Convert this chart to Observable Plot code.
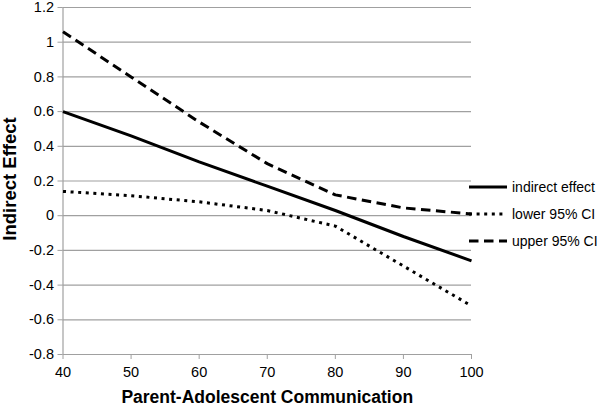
<!DOCTYPE html>
<html>
<head>
<meta charset="utf-8">
<script src="https://cdn.jsdelivr.net/npm/d3@7"></script>
<script src="https://cdn.jsdelivr.net/npm/@observablehq/plot@0.6"></script>
<style>
  html, body { margin: 0; padding: 0; background: #fff; }
  #wrap { position: relative; width: 600px; height: 407px; font-family: "Liberation Sans", Arial, Helvetica, sans-serif; }
  #legend { position: absolute; left: 469px; top: 173px; font-size: 14px; color: #000; }
  .row { display: flex; align-items: center; height: 27px; white-space: nowrap; }
  .row svg { margin-right: 5px; }
</style>
</head>
<body>
<div id="wrap"></div>
<script>
const communication = [40, 50, 60, 70, 80, 90, 100];
const indirectEffect = [0.60, 0.46, 0.31, 0.17, 0.03, -0.12, -0.26];
const lowerCI = [0.14, 0.115, 0.08, 0.03, -0.06, -0.29, -0.52];
const upperCI = [1.06, 0.80, 0.54, 0.30, 0.12, 0.045, 0.01];
const xTicks = [40, 50, 60, 70, 80, 90, 100];
const yTicks = [-0.8, -0.6, -0.4, -0.2, 0, 0.2, 0.4, 0.6, 0.8, 1, 1.2];
const seriesNames = ["indirect effect", "lower 95% CI", "upper 95% CI"];
const seriesValues = [indirectEffect, lowerCI, upperCI];
const seriesDash = [null, "3,4.6", "9.5,5.5"];

const rows = [];
seriesNames.forEach((name, i) => {
  communication.forEach((c, j) => rows.push({series: name, x: c, y: seriesValues[i][j]}));
});

const lineMarks = seriesNames.map((name, i) => Plot.line(rows.filter(d => d.series === name), {
  x: "x", y: "y", stroke: "#000", strokeWidth: 3,
  strokeDasharray: seriesDash[i] || undefined,
  strokeLinecap: "butt", strokeLinejoin: "round"
}));

const chart = Plot.plot({
  width: 600,
  height: 407,
  marginLeft: 62.5,
  marginRight: 129,
  marginTop: 7,
  marginBottom: 53,
  style: {fontFamily: '"Liberation Sans", Arial, Helvetica, sans-serif', fontSize: "14px", color: "#000", background: "#fff"},
  x: {domain: [40, 100], ticks: xTicks, label: null},
  y: {domain: [-0.8, 1.2], ticks: yTicks, label: null},
  marks: [
    Plot.gridY(yTicks, {stroke: "#a0a0a0", strokeOpacity: 1, strokeWidth: 1.2}),
    Plot.ruleX([40], {stroke: "#a0a0a0", strokeWidth: 1.2}),
    Plot.axisY(yTicks, {tickSize: 5, tickPadding: 4, stroke: "#a0a0a0", tickFormat: d => String(d), label: null, fontSize: 14.5}),
    Plot.axisX(xTicks, {tickSize: 5, tickPadding: 7, stroke: "#a0a0a0", tickFormat: d => String(d), label: null, fontSize: 14.5}),
    ...lineMarks,
    Plot.text(["Parent-Adolescent Communication"], {frameAnchor: "bottom", dy: 43, fontWeight: "bold", fontSize: 17.5, lineAnchor: "middle"}),
    Plot.text(["Indirect Effect"], {frameAnchor: "left", textAnchor: "middle", dx: -53, dy: -2, rotate: -90, fontWeight: "bold", fontSize: 18.5, lineAnchor: "middle"})
  ]
});

const wrap = document.getElementById("wrap");
wrap.appendChild(chart);

const legend = document.createElement("div");
legend.id = "legend";
seriesNames.forEach((name, i) => {
  const row = document.createElement("div");
  row.className = "row";
  const ns = "http://www.w3.org/2000/svg";
  const s = document.createElementNS(ns, "svg");
  s.setAttribute("width", 38); s.setAttribute("height", 6);
  const l = document.createElementNS(ns, "line");
  l.setAttribute("x1", 0); l.setAttribute("x2", 38);
  l.setAttribute("y1", 3); l.setAttribute("y2", 3);
  l.setAttribute("stroke", "#000"); l.setAttribute("stroke-width", 3);
  if (seriesDash[i]) l.setAttribute("stroke-dasharray", seriesDash[i]);
  s.appendChild(l);
  row.appendChild(s);
  const t = document.createElement("span");
  t.textContent = name;
  row.appendChild(t);
  legend.appendChild(row);
});
wrap.appendChild(legend);
</script>
</body>
</html>
